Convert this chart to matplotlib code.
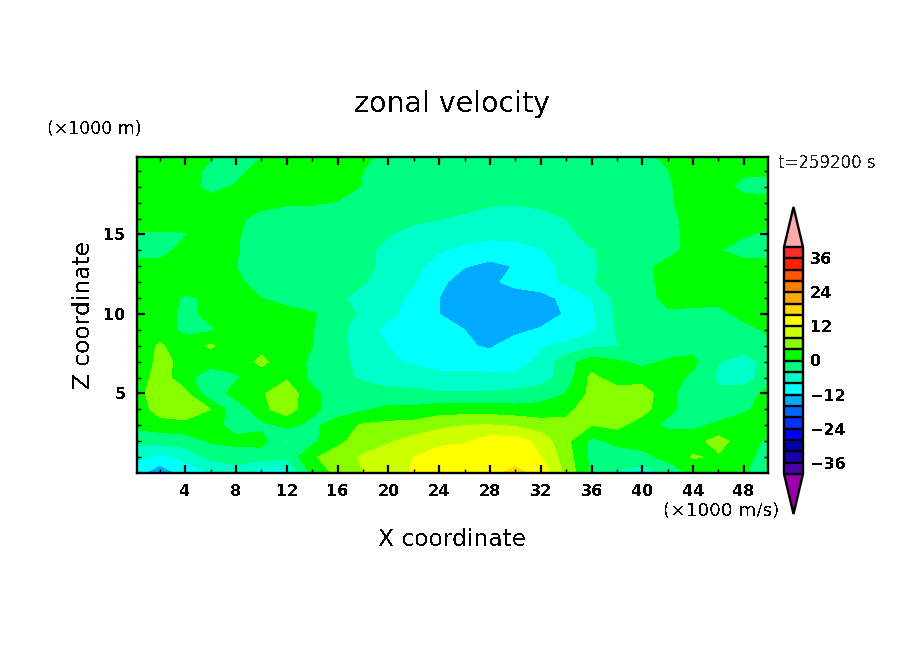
import numpy as np
import matplotlib
matplotlib.use("Agg")
import matplotlib.pyplot as plt
from matplotlib.colors import ListedColormap, BoundaryNorm

plt.rcParams['font.family'] = ['DejaVu Sans']
plt.rcParams['text.antialiased'] = False

x_km = [0, 2, 4, 6, 8, 10, 12, 14, 16, 18, 20, 22, 24, 26, 28, 30, 32, 34, 36, 38, 40, 42, 44, 46, 48, 50]
z_km = list(range(21))

u00 = [-10, -15, -10, -8, -6, -10, -9, 1, 5, 8, 10, 12.5, 14, 15, 15, 17, 15, 7, -1, -4.5, -6, -3.5, 1, 1.5, 0.5, -3]
u01 = [-7, -9, -7, -3, -2, -2.5, -3, 3.5, 6, 8.5, 10.5, 12, 14, 14.5, 14.5, 14.5, 12, 6, -1, -2, -1.5, 1.5, 4.3, 3.5, 1, -1.5]
u02 = [-3, -2.5, -2, 0.5, 1, 1.5, -4.5, -1, 3, 6, 7.5, 9.5, 11, 11.5, 14, 14, 10.5, 5, -1, 1, 2, 2.5, 2.5, 5.5, 2, -1]
u03 = [1, 2, 2.5, 1.5, -1.5, -1, 1, -1, 2, 4.5, 5, 5.5, 7, 8, 8.2, 7.5, 6, 5, 4, 5, 2, -1, -1, 1, 1.5, 2]
u04 = [1, 6, 7, 4, -3, 3, 6, 1, -2, -0.5, 1, 1, 2, 2, 2, 1.5, 1.5, 3, 6, 7, 5.5, 1, -2, -3, -0.5, 1.5]
u05 = [2.5, 6, 5, -3, 2, 3.5, 6.5, 1, -2, -2.5, -3, -3, -3.5, -3.5, -3.5, -3, -2, 0, 5, 6, 6.5, 1, -2, -3.5, -1.5, 1]
u06 = [1, 6, 1.5, -3, -0.5, 2, 3.5, -1, -3, -4.5, -5.5, -6, -7, -7, -7, -7, -6, -2, 5, 2, 2, 2, -1, -4.5, -6.5, -1]
u07 = [1, 5, 3, 2, 1.5, 5, 1.5, -0.5, -3, -5, -7.5, -8.5, -9.5, -9.5, -10, -10, -7, -1.5, 2, 0.5, -1, 0.5, 1, -3.9, -6, -2]
u08 = [1.5, 4.5, 2, 4.5, 1.5, 2.5, 1.5, 0, -3, -5.5, -8, -10, -11, -11.5, -12.5, -10, -8.5, -7, -5, -4.2, -3, -2, -1.5, -2, -2, -0.5]
u09 = [2, 2, -1, -0.5, 2, 2, 2, 0.2, -3, -6, -9.5, -11, -11.5, -12, -14.5, -13, -11.5, -10.5, -9, -3.5, -2.5, -2, -1.5, -1.5, -1, 0.5]
u10 = [2, 2, -1, 1, 2, 2, 2, 0.5, -2.5, -4.5, -6.8, -10, -12, -14.5, -15, -15, -14.5, -11.5, -8.8, -3.5, -2, -0.5, -1, -1, 1, 1.5]
u11 = [2, 2, -0.5, 0.5, 1.5, 0, -2, -3, -3.5, -5, -6.5, -9, -12, -14.5, -15, -14.5, -14, -10.5, -8, -3, -1.5, 1, 1.5, 1, 1.5, 2]
u12 = [2, 2.5, 2, 2, 0.5, -1, -1.5, -2, -3, -3.8, -5.5, -7.8, -11, -14, -13, -10.5, -9, -7.5, -4.3, -2.5, -1, 1, 2, 2, 2, 2]
u13 = [2, 2, 2, 2, 0, -2, -2, -2.5, -3, -3.5, -4.5, -7, -9.5, -11.8, -13, -11.8, -9.5, -7, -4.5, -2.5, -0.8, 1, 2, 2, 2, 2]
u14 = [-2, -2, 2, 2, 0.3, -2, -2, -2.5, -3, -3.5, -4.5, -6, -7.7, -9, -10, -9.5, -8.3, -6, -4.2, -3, -2, -1, 1, 0.2, -2, -2]
u15 = [-0.5, -0.5, -0.3, 2, 0.3, -1.5, -2, -2.5, -2.8, -3.2, -3.9, -4.8, -5.5, -6.5, -7, -7, -6, -4.8, -3, -2.5, -1.8, -1, 1, 2, 0.5, -1]
u16 = [2, 2, 2, 2, 1, -1.5, -2, -2.5, -2.5, -2.5, -3, -3.5, -3.9, -4.5, -5, -5.2, -4.7, -4, -3, -2.5, -1.8, -0.8, 1, 2, 2, 2]
u17 = [2, 2, 2, 2, 2, 1.5, 0.5, 0.5, -0.2, -1, -1.5, -2, -2.5, -3, -3.7, -3.8, -3.5, -3, -2.5, -2, -1.5, -0.5, 1.5, 2, 2, 2]
u18 = [1, 2, 2, -1.5, 0.5, 2, 2, 2, 1.5, -0.2, -1, -1.5, -2, -2, -2.5, -2.5, -2.5, -2, -2, -2, -1.5, -0.4, 1.5, 2, -1.5, -2]
u19 = [2, 2, 2, -1, -1.5, 2, 2, 2, 2, 0, -1, -1.5, -1.5, -1.5, -1.5, -1.5, -1.5, -1.5, -1.5, -1.5, -1, -0.1, 2, 2, 1, 1]
u20 = [2, 2, 2, 0.5, -1.5, -0.5, 2, 2, 2, 1, -1, -1.5, -1.5, -1.5, -1.5, -1.5, -1.5, -1.5, -1.5, -1, -0.5, 0.5, 2, 2, 2, 2]

levels = list(range(-40, 41, 4))
cell_colors = ['#4c00aa', '#1a00aa', '#0000aa', '#0000ff', '#0033ff', '#0066ff', '#00aaff',
               '#00ffff', '#00ffc8', '#00ff80', '#00ff00', '#88ff00', '#ccff00', '#ffff00',
               '#ffd900', '#ffaa00', '#ff7f00', '#ff5500', '#ff2000', '#ff2a2a']
x_ticks = list(range(4, 49, 4))
x_minor = list(range(2, 50, 4))
z_ticks = [5, 10, 15]
z_minor = list(range(1, 20))
bar_ticks = [-36, -24, -12, 0, 12, 24, 36]

W, H = 904, 654
fig = plt.figure(figsize=(W / 100, H / 100), dpi=100, facecolor='white')


def box(l, t, r, b):
    return [l / W, 1 - b / H, (r - l) / W, (b - t) / H]


ax = fig.add_axes(box(137, 157, 768, 473))
u = np.array([u00, u01, u02, u03, u04, u05, u06, u07, u08, u09, u10,
              u11, u12, u13, u14, u15, u16, u17, u18, u19, u20])
cmap = ListedColormap(cell_colors)
cmap.set_over('#ffaaaa')
cmap.set_under('#9900aa')
norm = BoundaryNorm(levels, cmap.N)
cf = ax.contourf(x_km, z_km, u, levels=levels, cmap=cmap, norm=norm, extend='both')
ax.set_xlim(0.2, 49.9)
ax.set_ylim(0.0, 19.87)
ax.set_xticks(x_ticks)
ax.set_xticks(x_minor, minor=True)
ax.set_yticks(z_ticks)
ax.set_yticks(z_minor, minor=True)
ax.tick_params(which='major', direction='in', length=6, width=1.6, top=True, right=True,
               labelsize=11.5, pad=8)
ax.tick_params(which='minor', direction='in', length=3.2, width=1, top=True, right=True)
for lab in ax.get_xticklabels() + ax.get_yticklabels():
    lab.set_fontweight('bold')
for s in ax.spines.values():
    s.set_linewidth(1.7)

fig.text(452 / W, 1 - 104 / H, 'zonal velocity', ha='center', va='center', fontsize=20.5)
fig.text(452 / W, 1 - 540 / H, 'X coordinate', ha='center', va='center', fontsize=16.8)
fig.text(83 / W, 1 - 315 / H, 'Z coordinate', ha='center', va='center', rotation=90, fontsize=16.8)
fig.text(47 / W, 1 - 129 / H, '(×1000 m)', ha='left', va='center', fontsize=12.5)
fig.text(778 / W, 1 - 163 / H, 't=259200 s', ha='left', va='center', fontsize=12, color='#222222')
fig.text(663 / W, 1 - 511 / H, '(×1000 m/s)', ha='left', va='center', fontsize=13.2)

cax = fig.add_axes(box(784, 207, 803, 514))
cb = fig.colorbar(cf, cax=cax, extend='both', extendfrac=40 / 226, drawedges=True, spacing='uniform')
cb.set_ticks(bar_ticks)
cb.set_ticklabels([str(t).replace('-', '\u2212') for t in bar_ticks])
cb.ax.tick_params(length=0, labelsize=11.5, pad=5)
for lab in cb.ax.get_yticklabels():
    lab.set_fontweight('bold')
cb.ax.minorticks_off()
cb.dividers.set_linewidth(1.7)
cb.dividers.set_color('black')
cb.outline.set_linewidth(1.7)

fig.savefig('out.png', dpi=100, facecolor='white')
